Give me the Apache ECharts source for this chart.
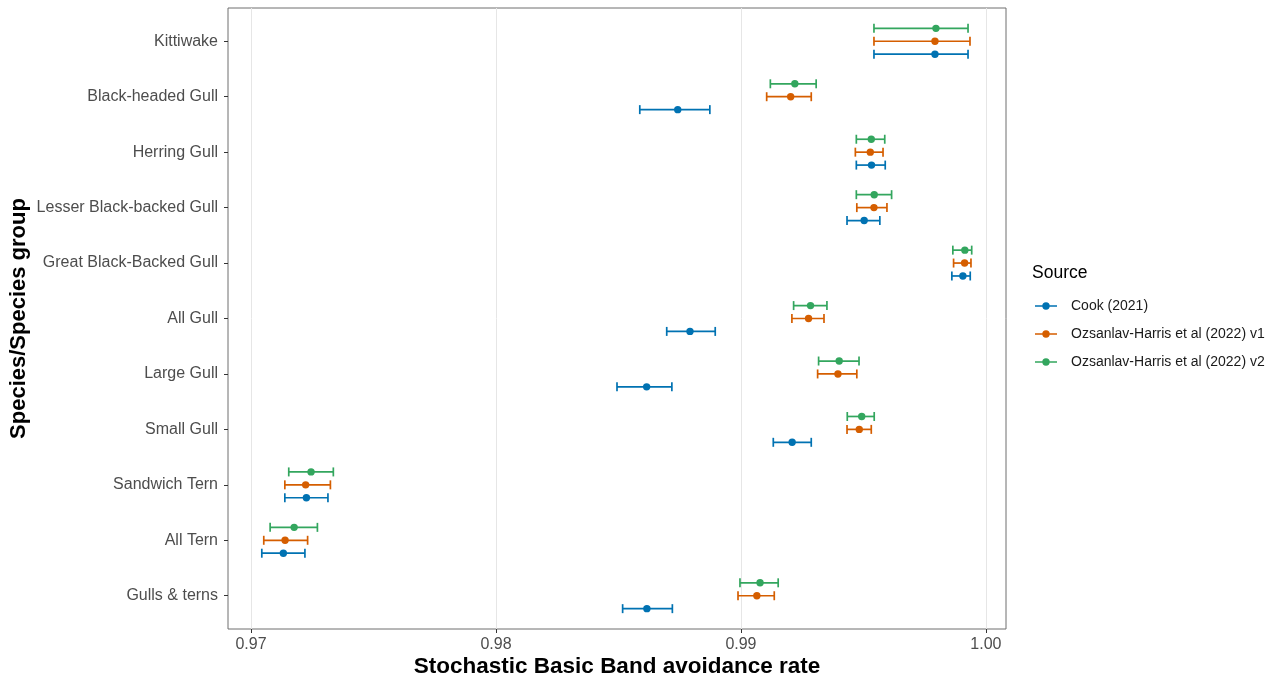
<!DOCTYPE html>
<html>
<head>
<meta charset="utf-8">
<script src="https://cdn.jsdelivr.net/npm/echarts@6/dist/echarts.min.js"></script>
<style>
html,body{margin:0;padding:0;background:#fff;}
#chart{width:1279px;height:682px;}
</style>
</head>
<body>
<div id="chart"></div>
<script>
// Categories (top to bottom)
const categories = ["Kittiwake","Black-headed Gull","Herring Gull","Lesser Black-backed Gull","Great Black-Backed Gull","All Gull","Large Gull","Small Gull","Sandwich Tern","All Tern","Gulls & terns"];
const sources = ["Cook (2021)","Ozsanlav-Harris et al (2022) v1","Ozsanlav-Harris et al (2022) v2"];
const xTicks = [0.97, 0.98, 0.99, 1.00];

// mean / lower / upper per category
const cookMean  = [0.99792,0.98742,0.99533,0.99503,0.99906,0.98792,0.98615,0.99209,0.97226,0.97132,0.98616];
const cookLow   = [0.99543,0.98587,0.99471,0.99433,0.99861,0.98697,0.98494,0.99132,0.97138,0.97044,0.98517];
const cookHigh  = [0.99927,0.98873,0.99589,0.99567,0.99936,0.98895,0.98718,0.99287,0.97314,0.97220,0.98720];

const v1Mean    = [0.99792,0.99203,0.99528,0.99543,0.99913,0.99276,0.99396,0.99483,0.97223,0.97139,0.99065];
const v1Low     = [0.99543,0.99105,0.99467,0.99473,0.99868,0.99208,0.99313,0.99433,0.97138,0.97052,0.98988];
const v1High    = [0.99935,0.99287,0.99580,0.99596,0.99939,0.99339,0.99473,0.99532,0.97324,0.97231,0.99136];

const v2Mean    = [0.99796,0.99220,0.99532,0.99544,0.99914,0.99284,0.99401,0.99493,0.97245,0.97176,0.99078];
const v2Low     = [0.99543,0.99120,0.99471,0.99471,0.99865,0.99215,0.99317,0.99434,0.97154,0.97078,0.98996];
const v2High    = [0.99927,0.99307,0.99587,0.99615,0.99942,0.99351,0.99482,0.99544,0.97336,0.97271,0.99152];

const colors = ["#0072B2","#D55E00","#33A65E"];
const offsets = [0.233, 0, -0.233];
const seriesData = [[cookMean,cookLow,cookHigh],[v1Mean,v1Low,v1High],[v2Mean,v2Low,v2High]];

const FONT = "Liberation Sans, Arial, Helvetica, sans-serif";

function makeSeries(si){
  const [m,l,h] = seriesData[si];
  const data = categories.map((c,i)=>[m[i], l[i], h[i], i+1+offsets[si]]);
  return {
    name: sources[si],
    type: 'custom',
    itemStyle: {color: colors[si]},
    encode: {x:[0,1,2], y:3},
    data: data,
    renderItem: function(params, api){
      const y = api.value(3);
      const pm = api.coord([api.value(0), y]);
      const pl = api.coord([api.value(1), y]);
      const ph = api.coord([api.value(2), y]);
      const cap = 4.5;
      const st = {stroke: colors[si], lineWidth: 1.7};
      return {type:'group', children:[
        {type:'line', shape:{x1:pl[0],y1:pl[1],x2:ph[0],y2:ph[1]}, style:st},
        {type:'line', shape:{x1:pl[0],y1:pl[1]-cap,x2:pl[0],y2:pl[1]+cap}, style:st},
        {type:'line', shape:{x1:ph[0],y1:ph[1]-cap,x2:ph[0],y2:ph[1]+cap}, style:st},
        {type:'circle', shape:{cx:pm[0],cy:pm[1],r:3.7}, style:{fill:colors[si]}}
      ]};
    }
  };
}

const legendIcon = 'path://M0,3.2L22,3.2L22,4.8L0,4.8Z M14.7,4A3.7,3.7,0,1,1,7.3,4A3.7,3.7,0,1,1,14.7,4Z';

const chart = echarts.init(document.getElementById('chart'), null, {renderer:'canvas'});
chart.setOption({
  animation: false,
  backgroundColor: '#ffffff',
  grid: {left:228, right:273, top:8, bottom:53, show:true, borderColor:'#6e6e6e', borderWidth:1, backgroundColor:'transparent', outerBoundsMode:'none', containLabel:false},
  xAxis: {
    type:'value', min:0.96906, max:1.00082,
    name:'Stochastic Basic Band avoidance rate', nameLocation:'middle', nameGap:26, nameMoveOverlap:false,
    nameTextStyle:{fontFamily:FONT, fontSize:22.5, fontWeight:'bold', color:'#000'},
    axisLine:{show:false},
    axisTick:{show:true, customValues:xTicks, length:4, lineStyle:{color:'#333'}},
    axisLabel:{customValues:xTicks, fontFamily:FONT, fontSize:16, color:'#4d4d4d', margin:8,
      formatter:v=>v.toFixed(2)},
    splitLine:{show:true, lineStyle:{color:'#e6e6e6', width:1}}
  },
  yAxis: {
    type:'value', min:0.4, max:11.6, inverse:true,
    name:'Species/Species group', nameLocation:'middle', nameGap:198, nameMoveOverlap:false,
    nameTextStyle:{fontFamily:FONT, fontSize:22, fontWeight:'bold', color:'#000'},
    axisLine:{show:false},
    axisTick:{show:true, customValues:categories.map((c,i)=>i+1), length:4, lineStyle:{color:'#333'}},
    axisLabel:{customValues:categories.map((c,i)=>i+1), fontFamily:FONT, fontSize:16, color:'#4d4d4d', margin:10,
      formatter:v=>categories[Math.round(v)-1]},
    splitLine:{show:false}
  },
  legend: {
    orient:'vertical', left:1035, top:298, padding:0,
    data: sources,
    icon: legendIcon, itemWidth:22, itemHeight:8, itemGap:12,
    textStyle:{fontFamily:FONT, fontSize:14, color:'#1a1a1a', lineHeight:16, padding:[0,0,0,9]}
  },
  graphic: [
    {type:'text', left:1032, top:264, style:{text:'Source', fontFamily:FONT, fontSize:17.5, fill:'#000'}}
  ],
  series: [makeSeries(0), makeSeries(1), makeSeries(2)]
});
</script>
</body>
</html>
